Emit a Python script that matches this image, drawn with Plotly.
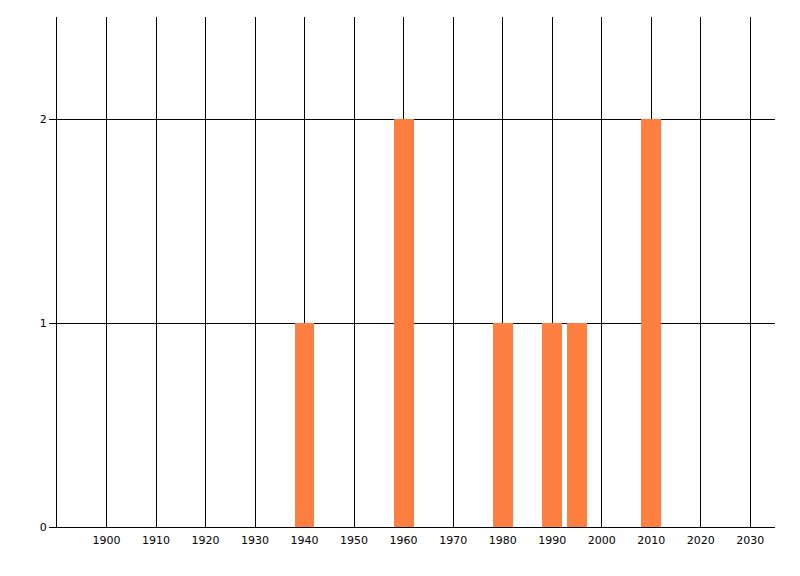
import plotly.graph_objects as go

years = [1940, 1960, 1980, 1990, 1995, 2010]
counts = [1, 2, 1, 1, 1, 2]
x_ticks = list(range(1900, 2031, 10))
y_ticks = [0, 1, 2]

fig = go.Figure()
fig.add_trace(go.Bar(x=years, y=counts, width=[4] * len(years),
                     marker=dict(color="#FF7F41", line=dict(width=0))))

fig.update_layout(
    width=784, height=560,
    margin=dict(l=49, r=17, t=9, b=41),
    paper_bgcolor="white", plot_bgcolor="white",
    showlegend=False,
    font=dict(family="DejaVu Sans, Tahoma, sans-serif", size=11, color="#000"),
    bargap=0,
)
fig.update_xaxes(range=[1890, 2035], tickvals=x_ticks, ticktext=[str(v) for v in x_ticks],
                 showgrid=True, gridcolor="#000", gridwidth=1,
                 showline=True, linecolor="#000", linewidth=1,
                 ticks="", zeroline=False, ticklabelstandoff=3)
fig.update_yaxes(range=[0, 2.5], tickvals=y_ticks, ticktext=[str(v) for v in y_ticks],
                 showgrid=True, gridcolor="#000", gridwidth=1,
                 showline=True, linecolor="#000", linewidth=1,
                 ticks="outside", ticklen=7, tickcolor="#000", zeroline=False)

fig.write_html("out.html")
